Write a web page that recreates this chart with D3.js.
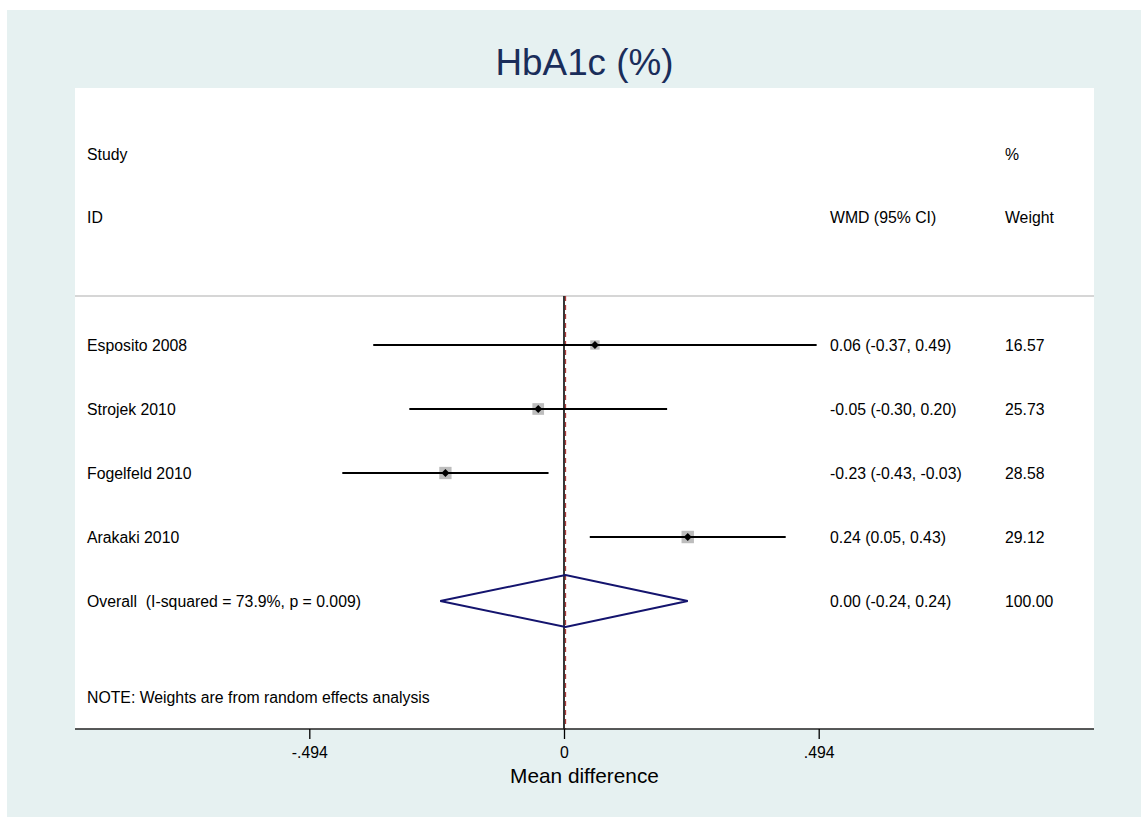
<!DOCTYPE html>
<html>
<head>
<meta charset="utf-8">
<script src="https://cdn.jsdelivr.net/npm/d3@7"></script>
<style>
  html, body { margin: 0; padding: 0; background: #ffffff; }
  svg { display: block; }
  text { font-family: "Liberation Sans", Arial, sans-serif; }
</style>
</head>
<body>
<svg id="chart" width="1141" height="817"></svg>
<script>
// ---- data ----
const studies   = ["Esposito 2008", "Strojek 2010", "Fogelfeld 2010", "Arakaki 2010"];
const estimates = [0.06, -0.05, -0.23, 0.24];
const lower     = [-0.37, -0.30, -0.43, 0.05];
const upper     = [0.49, 0.20, -0.03, 0.43];
const weights   = [16.57, 25.73, 28.58, 29.12];
const ciLabels  = ["0.06 (-0.37, 0.49)", "-0.05 (-0.30, 0.20)", "-0.23 (-0.43, -0.03)", "0.24 (0.05, 0.43)"];
const weightLabels = ["16.57", "25.73", "28.58", "29.12"];
const overallLabel = "Overall  (I-squared = 73.9%, p = 0.009)";
const overallEst = 0.003;
const overallLow = -0.24;
const overallHigh = 0.24;
const overallCI = "0.00 (-0.24, 0.24)";
const overallWeight = "100.00";
const tickValues = [-0.494, 0, 0.494];
const tickLabels = ["-.494", "0", ".494"];
const rowNames = [...studies, "Overall"];

// ---- layout ----
const svg = d3.select("#chart");
const W = 1141, H = 817;
const plot = { left: 75, right: 1094, top: 88, bottom: 729 };

svg.append("rect").attr("x", 7).attr("y", 10).attr("width", W - 7).attr("height", H - 10)
  .attr("fill", "#e6f1f1");
svg.append("rect").attr("x", plot.left).attr("y", plot.top)
  .attr("width", plot.right - plot.left).attr("height", plot.bottom - plot.top)
  .attr("fill", "#ffffff");

const x = d3.scaleLinear().domain([-0.494, 0.494]).range([309.3, 818.7]);
const y = d3.scalePoint().domain(rowNames).range([345, 601]);

// title
svg.append("text").attr("x", (plot.left + plot.right) / 2).attr("y", 75)
  .attr("text-anchor", "middle").attr("font-size", 36.8).attr("fill", "#1a2d5a")
  .text("HbA1c (%)");

// header
const fs = 15.8;
const colStudy = 87, colCI = 830, colW = 1005;
function txt(xp, yp, s, opts = {}) {
  return svg.append("text").attr("x", xp).attr("y", yp).attr("font-size", opts.size || fs)
    .attr("fill", "#000").attr("text-anchor", opts.anchor || "start").text(s);
}
txt(colStudy, 160, "Study");
txt(colStudy, 223, "ID");
txt(colCI, 223, "WMD (95% CI)");
txt(colW, 160, "%");
txt(colW, 223, "Weight");

// separator
svg.append("line").attr("x1", plot.left).attr("x2", plot.right).attr("y1", 296).attr("y2", 296)
  .attr("stroke", "#c8c8c8").attr("stroke-width", 1.5);

// null line
svg.append("line").attr("x1", x(0)).attr("x2", x(0)).attr("y1", 296).attr("y2", plot.bottom)
  .attr("stroke", "#222").attr("stroke-width", 1.8);
// overall dashed line
svg.append("line").attr("x1", x(overallEst)).attr("x2", x(overallEst)).attr("y1", 296).attr("y2", plot.bottom)
  .attr("stroke", "#b03a3a").attr("stroke-width", 1.2).attr("stroke-dasharray", "5,4");

// studies
studies.forEach((s, i) => {
  const yy = y(s);
  txt(colStudy, yy + 6, s);
  txt(colCI, yy + 6, ciLabels[i]);
  txt(colW, yy + 6, weightLabels[i]);
  const side = 2.3 * Math.sqrt(weights[i]);
  svg.append("rect").attr("x", x(estimates[i]) - side / 2).attr("y", yy - side / 2)
    .attr("width", side).attr("height", side).attr("fill", "#bdbdbd");
  svg.append("line").attr("x1", x(lower[i])).attr("x2", x(upper[i])).attr("y1", yy).attr("y2", yy)
    .attr("stroke", "#000").attr("stroke-width", 2);
  const d = 4;
  const cx = x(estimates[i]);
  svg.append("path").attr("d", `M${cx - d},${yy}L${cx},${yy - d}L${cx + d},${yy}L${cx},${yy + d}Z`)
    .attr("fill", "#000");
});

// overall
const oy = y("Overall");
txt(colStudy, oy + 6, overallLabel).attr("xml:space", "preserve").style("white-space", "pre");
txt(colCI, oy + 6, overallCI);
txt(colW, oy + 6, overallWeight);
svg.append("path")
  .attr("d", `M${x(overallLow)},${oy}L${x(overallEst)},${oy - 26}L${x(overallHigh)},${oy}L${x(overallEst)},${oy + 26}Z`)
  .attr("fill", "none").attr("stroke", "#14146e").attr("stroke-width", 2);

// note
txt(colStudy, 703, "NOTE: Weights are from random effects analysis");

// axis
svg.append("line").attr("x1", plot.left).attr("x2", plot.right).attr("y1", plot.bottom).attr("y2", plot.bottom)
  .attr("stroke", "#222").attr("stroke-width", 1.5);
const axis = d3.axisBottom(x).tickValues(tickValues).tickFormat((d, i) => tickLabels[i])
  .tickSize(10).tickPadding(8);
const ag = svg.append("g").attr("transform", `translate(0,${plot.bottom})`).call(axis);
ag.select(".domain").remove();
ag.selectAll(".tick line").attr("stroke", "#000").attr("stroke-width", 1.3);
ag.selectAll(".tick text").attr("font-size", 15.8).attr("fill", "#000")
  .attr("font-family", "'Liberation Sans', Arial, sans-serif");

svg.append("text").attr("x", (plot.left + plot.right) / 2).attr("y", 783)
  .attr("text-anchor", "middle").attr("font-size", 20.8).attr("fill", "#000")
  .text("Mean difference");
</script>
</body>
</html>
